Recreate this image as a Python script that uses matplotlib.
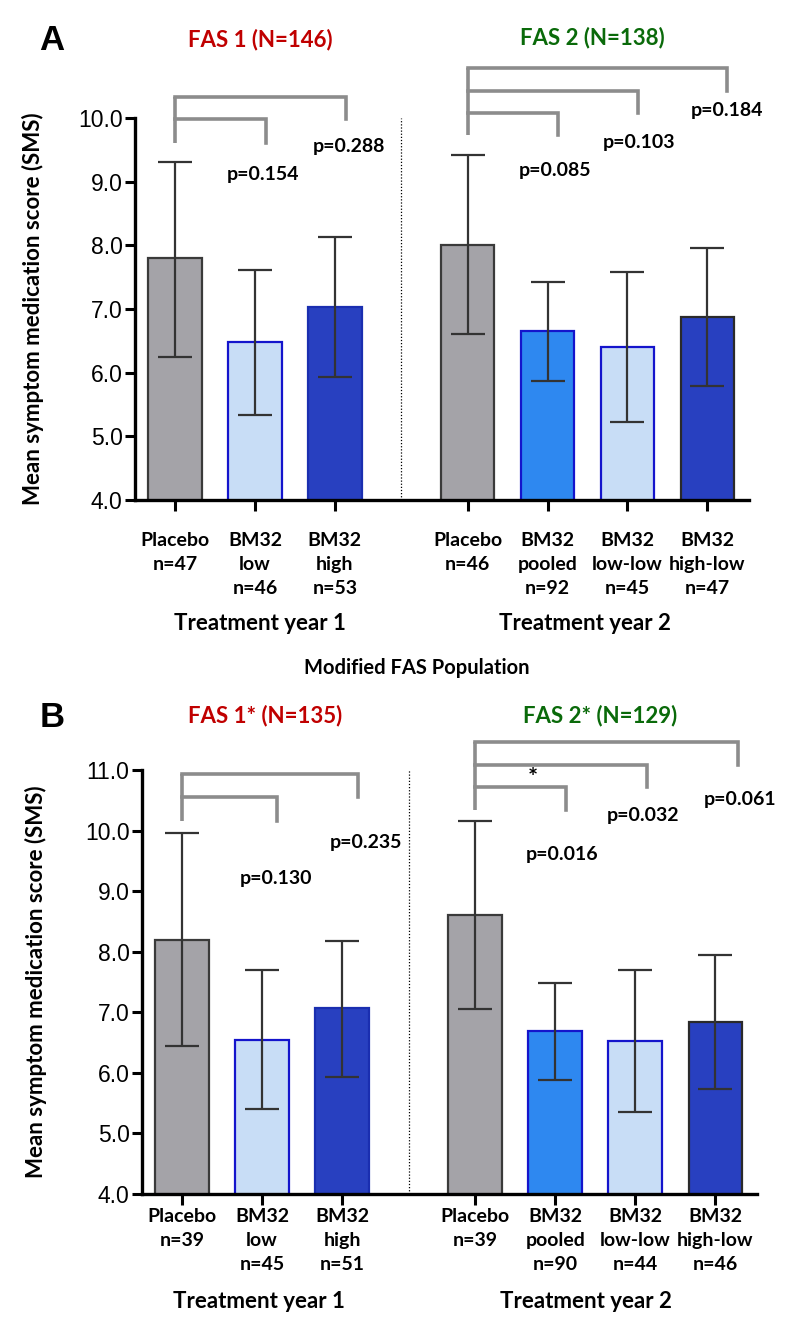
import matplotlib
matplotlib.use("Agg")
import matplotlib.pyplot as plt

# ---------------- data ----------------
A_labels = ["Placebo\nn=47", "BM32\nlow\nn=46", "BM32\nhigh\nn=53",
            "Placebo\nn=46", "BM32\npooled\nn=92", "BM32\nlow-low\nn=45", "BM32\nhigh-low\nn=47"]
A_means = [7.80, 6.48, 7.03, 8.01, 6.65, 6.40, 6.87]
A_upper = [9.31, 7.61, 8.13, 9.42, 7.42, 7.58, 7.96]
A_lower = [6.24, 5.33, 5.93, 6.61, 5.87, 5.22, 5.79]
A_p_y1 = ["p=0.154", "p=0.288"]
A_p_y2 = ["p=0.085", "p=0.103", "p=0.184"]

B_labels = ["Placebo\nn=39", "BM32\nlow\nn=45", "BM32\nhigh\nn=51",
            "Placebo\nn=39", "BM32\npooled\nn=90", "BM32\nlow-low\nn=44", "BM32\nhigh-low\nn=46"]
B_means = [8.20, 6.55, 7.07, 8.60, 6.69, 6.52, 6.84]
B_upper = [9.96, 7.70, 8.18, 10.15, 7.48, 7.70, 7.95]
B_lower = [6.45, 5.40, 5.93, 7.05, 5.89, 5.35, 5.73]
B_p_y1 = ["p=0.130", "p=0.235"]
B_p_y2 = ["p=0.016", "p=0.032", "p=0.061"]

A_titles = ["FAS 1 (N=146)", "FAS 2 (N=138)"]
B_titles = ["FAS 1* (N=135)", "FAS 2* (N=129)"]
group_labels = ["Treatment year 1", "Treatment year 2"]

# ---------------- style ----------------
positions = [0, 1, 2, 3.66, 4.66, 5.66, 6.66]
face = ["#A4A3A8", "#C8DDF6", "#2840C0", "#A4A3A8", "#2E88F0", "#C8DDF6", "#2840C0"]
edge = ["#3A3A3A", "#1414CC", "#1A2EB0", "#3A3A3A", "#1414CC", "#1414CC", "#2A2A2A"]
BOLD = ["Lato", "DejaVu Sans"]
NUM = ["Liberation Sans", "DejaVu Sans"]
RED = "#C00000"
GREEN = "#0A6A0A"
GRAY = "#8C8C8C"

W, H = 800, 1336
fig = plt.figure(figsize=(8, 13.36), dpi=100)


def fx(px):
    return px / W


def fy(py):
    return 1 - py / H


def panel(rect, ylim, means, upper, lower, labels, lpad, ylabel_x,
          brk1, brk2, ptxt1, ptxt2, pv1, pv2, dotted_x):
    ax = fig.add_axes(rect)
    ax.bar(positions, means, width=0.67, color=face, edgecolor=edge, linewidth=1.6, zorder=2)
    yerr = [[m - l for m, l in zip(means, lower)], [u - m for m, u in zip(means, upper)]]
    ax.errorbar(positions, means, yerr=yerr, fmt="none", ecolor="#333333",
                elinewidth=1.6, capsize=12, capthick=1.6, zorder=3)
    ax.set_xlim(-0.5, 7.18)
    ax.set_ylim(*ylim)
    ax.set_yticks(range(int(ylim[0]), int(ylim[1]) + 1))
    ax.set_yticklabels([f"{v:.1f}" for v in range(int(ylim[0]), int(ylim[1]) + 1)],
                       fontfamily=NUM, fontsize=16.5)
    ax.set_xticks(positions)
    ax.set_xticklabels(labels, fontfamily=BOLD, fontweight="bold", fontsize=14,
                       linespacing=1.5, va="top")
    for s in ["top", "right"]:
        ax.spines[s].set_visible(False)
    for s in ["left", "bottom"]:
        ax.spines[s].set_linewidth(2.4)
        ax.spines[s].set_color("black")
    ax.tick_params(axis="y", length=7, width=2.2, pad=2)
    ax.tick_params(axis="x", length=8, width=2.2, pad=lpad)
    ax.axvline(dotted_x, color="black", linestyle=(0, (1, 1.5)), linewidth=0.9, zorder=1)
    ax.set_ylabel("Mean symptom medication score (SMS)", fontfamily=BOLD,
                  fontweight="bold", fontsize=16)
    ax.yaxis.set_label_coords(ylabel_x, 0.5)

    # brackets
    for (x0, ends, levels) in (brk1, brk2):
        ax.plot([x0, x0], [levels[0], levels[-1]], color=GRAY, lw=2.6,
                clip_on=False, solid_capstyle="butt", zorder=4)
        for i, xe in enumerate(ends):
            ax.plot([x0, xe, xe], [levels[i + 1], levels[i + 1], levels[i]], color=GRAY,
                    lw=2.6, clip_on=False, solid_joinstyle="miter", zorder=4)
    for (xy, t) in list(zip(ptxt1, pv1)) + list(zip(ptxt2, pv2)):
        ax.text(xy[0], xy[1], t, ha="center", va="center", fontfamily=BOLD,
                fontweight="bold", fontsize=14, clip_on=False)
    return ax


axA = panel([fx(135), fy(500), fx(749) - fx(135), fy(118) - fy(500)], (4, 10),
            A_means, A_upper, A_lower, A_labels, 15, -0.148,
            (0, [1.14, 2.14], [9.60, 9.98, 10.33]),
            (3.66, [4.79, 5.79, 6.90], [9.73, 10.08, 10.43, 10.78]),
            [(1.10, 9.12), (2.18, 9.56)], [(4.75, 9.18), (5.81, 9.62), (6.90, 10.11)],
            A_p_y1, A_p_y2, 2.83)

axB = panel([fx(142), fy(1194), fx(757) - fx(142), fy(770) - fy(1194)], (4, 11),
            B_means, B_upper, B_lower, B_labels, 2, -0.155,
            (0, [1.19, 2.20], [10.16, 10.55, 10.93]),
            (3.66, [4.80, 5.81, 6.94], [10.34, 10.72, 11.08, 11.46]),
            [(1.175, 9.21), (2.30, 9.81)], [(4.75, 9.61), (5.76, 10.25), (6.97, 10.52)],
            B_p_y1, B_p_y2, 2.84)
axB.text(4.375, 10.86, "*", ha="center", va="center", fontfamily=BOLD,
         fontweight="bold", fontsize=17, clip_on=False)

# panel letters and titles
fig.text(fx(52), fy(40), "A", ha="center", va="center", fontfamily=NUM,
         fontweight="bold", fontsize=25)
fig.text(fx(52), fy(717), "B", ha="center", va="center", fontfamily=NUM,
         fontweight="bold", fontsize=25)
fig.text(fx(260), fy(40), A_titles[0], ha="center", va="center", fontfamily=BOLD,
         fontweight="bold", fontsize=16, color=RED)
fig.text(fx(592), fy(38), A_titles[1], ha="center", va="center", fontfamily=BOLD,
         fontweight="bold", fontsize=16, color=GREEN)
fig.text(fx(265), fy(716), B_titles[0], ha="center", va="center", fontfamily=BOLD,
         fontweight="bold", fontsize=16, color=RED)
fig.text(fx(600), fy(716), B_titles[1], ha="center", va="center", fontfamily=BOLD,
         fontweight="bold", fontsize=16, color=GREEN)

# group labels
for (x, y), t in zip([(260, 623), (585, 623)], group_labels):
    fig.text(fx(x), fy(y), t, ha="center", va="center", fontfamily=BOLD,
             fontweight="bold", fontsize=16)
for (x, y), t in zip([(259, 1302), (586, 1302)], group_labels):
    fig.text(fx(x), fy(y), t, ha="center", va="center", fontfamily=BOLD,
             fontweight="bold", fontsize=16)
fig.text(fx(417), fy(668), "Modified FAS Population", ha="center", va="center",
         fontfamily=BOLD, fontweight="bold", fontsize=14.5)

fig.savefig("out.png", dpi=100)
